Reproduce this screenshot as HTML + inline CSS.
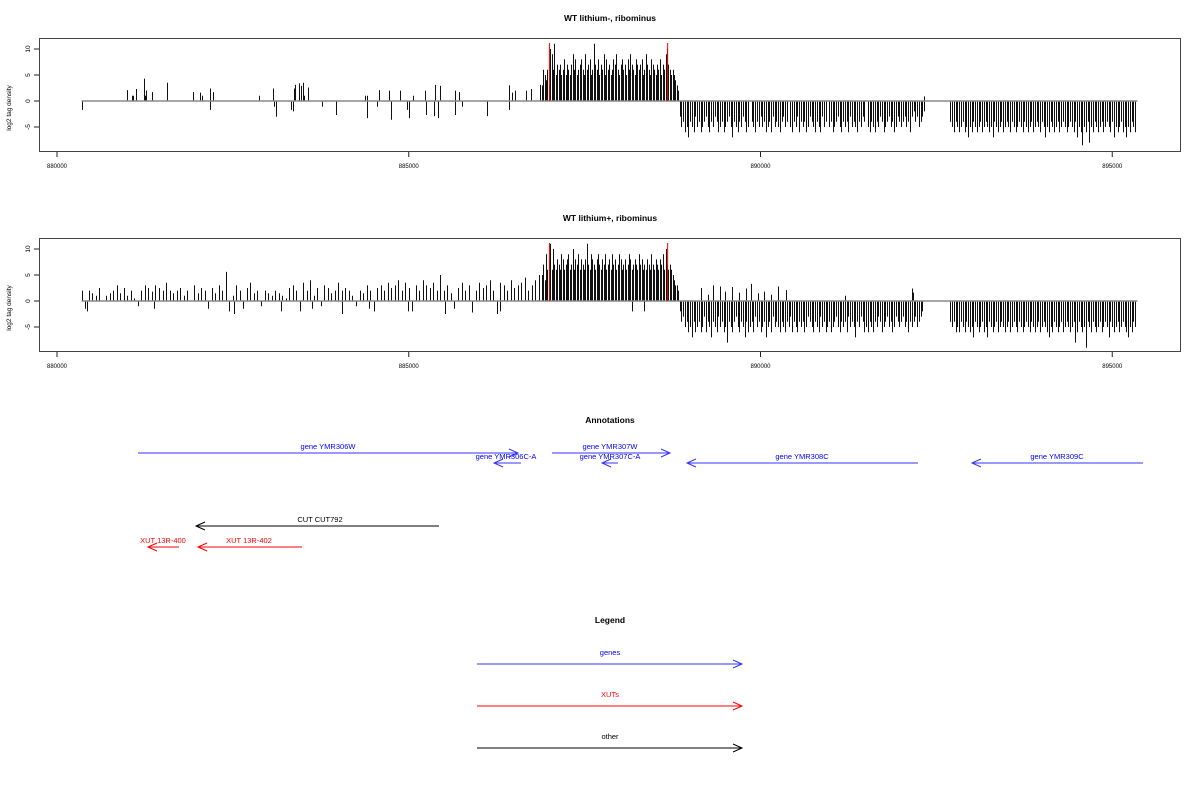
<!DOCTYPE html>
<html><head><meta charset="utf-8"><style>
body{margin:0;background:#fff}
svg{display:block;font-family:"Liberation Sans",sans-serif}
</style></head><body>
<svg id="chart" width="1200" height="800" viewBox="0 0 1200 800" xmlns="http://www.w3.org/2000/svg">
<rect width="1200" height="800" fill="#fff"/>
<g id="p1"></g>
<g id="p2"></g>
<g id="ann">
<text x="610" y="423" text-anchor="middle" font-size="8.5" font-weight="bold">Annotations</text>
</g>
<g id="leg">
<text x="610" y="623" text-anchor="middle" font-size="8.5" font-weight="bold">Legend</text>
</g>
</svg>
<script>
// ---- data ----
const tickValues = [880000, 885000, 890000, 895000];
const yTicks = [10, 5, 0, -5];
const redMarks = [887000, 888680];
const dataStart = 880350, dataEnd = 895360;

const p1SparsePos = [880359,881000,881065,881082,881120,881130,881234,881250,881266,881348,881565,881930,882038,882065,882168,882180,882212,882870,883070,883078,883108,883326,883348,883364,883386,883446,883468,883495,883510,883571,883766,883967,884375,884407,884413,884554,884581,884717,884744,884869,884978,885005,885054,885228,885244,885359,885380,885413,885445,885652,885657,885717,885761,886109,886424,886430,886472,886511,886668,886733,886860];
const p1SparseVal = [-1.7,2.1,1,1,2.3,1.6,4.3,1,2,1.7,3.5,1.7,1.6,1,2.4,-1.7,1.7,1,2.4,-1.1,-3,-1.7,-2,2.4,3.1,3.4,2.9,3.5,1,2.6,-1.1,-2.7,1,1,-3.3,-1.1,2.1,2,-3.6,2,-1.7,-3.3,1,2,-2.7,-2.9,3.1,-3.3,2.9,2,-2.7,1.7,-1.1,-2.9,3,-1.7,1.6,2,2,2.3,3.1];

const denseStart = 886890, denseStep = 20;
const p1Dense = [3,6,5,4,6,3,10,9,6,11,5,7,6,7,5,6,8,5,7,6,5,7,9,6,8,5,6,7,8,6,5,9,6,7,8,5,6,11,7,6,8,5,7,6,9,5,8,6,7,5,6,8,7,9,6,5,7,8,6,7,5,8,6,9,7,6,5,8,7,6,7,8,5,6,9,7,6,5,8,7,6,5,7,6,8,5,7,6,9,10,7,6,5,6,5,4,3,2];
const p2Dense = [5,7,4,9,6,8,11,6,10,7,6,8,7,6,9,8,6,7,8,9,6,7,10,6,8,7,9,6,8,7,6,8,11,7,6,9,8,7,6,8,9,7,6,8,7,9,6,7,8,6,9,7,8,6,7,9,8,6,7,8,6,7,9,8,6,7,8,7,6,9,7,8,6,7,6,8,7,6,9,7,6,8,7,6,8,7,9,6,10,7,6,7,6,5,4,3,3,2];

const negAStart = 888850, negStep = 25;
const p1NegA = [-3,-5,-4,-6,-5,-7,-4,-5,-6,-3,-5,-4,-6,-5,-4,-3,-5,-6,-4,-5,-3,-4,-6,-5,-4,-6,-5,-4,-3,-5,-7,-4,-5,-6,-4,-5,-3,-4,-6,-5,0,-4,-5,-6,-4,-5,-3,-5,-4,-6,-5,-4,-6,-3,-5,-4,-5,-6,-4,-3,-5,-4,0,-5,-6,-4,-5,-3,-6,-4,-5,-4,-6,-5,-3,-4,-5,-6,-4,-5,-6,-3,-5,-4,0,-5,-4,-6,-5,-4,-3,-5,-6,-4,-5,-4,-6,-3,-5,-4,-5,-6,-4,-5,-3,-4,0,-5,-6,-4,-5,-6,-4,-5,-3,-4,-6,-5,-4,-3,-5,-4,-6,-5,-3,-4,-5,-4,-3,-5,-4,-6,-3,-2,-4,-3,-5,-4,-3,-2];
const p2NegA = [-2,-4,-3,-5,-4,-6,-5,-7,-4,-6,-5,-4,-6,-5,-3,-6,-4,-5,-7,-4,-5,-6,-3,-5,-4,-6,-5,-8,-4,-5,-6,-4,-3,-5,-6,-4,-5,-7,-4,-6,-5,-4,-6,-3,-5,-4,-6,-5,-4,-7,-5,-4,-6,-3,-5,-4,-5,-6,-4,-5,-6,-4,-5,-3,-6,-4,-5,-6,-4,-5,-4,-6,-5,-3,-4,-5,-6,-4,-5,-6,-3,-5,-4,-6,-5,-4,-6,-5,-4,-3,-5,-6,-4,-5,-4,-6,-3,-5,-4,-5,-7,-4,-5,-3,-4,-6,-5,-6,-4,-5,-6,-4,-5,-3,-4,-6,-5,-4,-3,-5,-4,-6,-5,-3,-4,-5,-4,-3,-5,-4,-6,-4,-5,-4,-3,-5,-4,-3,-2];

const negBStart = 892700;
const p1NegB = [-4,-5,-6,-4,-5,-6,-5,-4,-6,-5,-7,-5,-6,-4,-5,-6,-5,-4,-6,-5,-4,-5,-6,-5,-7,-4,-5,-6,-5,-4,-6,-5,-4,-5,-6,-4,-5,-6,-5,-4,-5,-6,-4,-5,-6,-5,-4,-6,-5,-4,-5,-6,-4,-5,-7,-5,-6,-4,-5,-6,-5,-4,-6,-5,-4,-5,-6,-5,-4,-5,-6,-4,-7,-5,-6,-8.5,-5,-6,-4,-8,-5,-6,-4,-5,-6,-5,-4,-6,-5,-4,-5,-6,-4,-7,-5,-6,-5,-4,-6,-5,-7,-5,-6,-4,-5,-6];
const p2NegB = [-4,-5,-4,-6,-5,-6,-4,-5,-6,-4,-5,-6,-5,-7,-4,-5,-6,-5,-4,-6,-5,-7,-4,-5,-6,-5,-4,-6,-5,-4,-5,-6,-5,-4,-6,-5,-4,-5,-6,-4,-5,-6,-5,-4,-5,-6,-4,-5,-6,-5,-4,-6,-5,-4,-5,-6,-7,-5,-6,-4,-5,-6,-5,-4,-6,-5,-4,-5,-6,-5,-4,-8,-6,-4,-5,-6,-5,-9,-4,-5,-6,-4,-5,-6,-5,-4,-6,-5,-4,-5,-7,-4,-5,-6,-5,-4,-6,-5,-4,-5,-6,-7,-5,-6,-4,-5];

const p2AStart = 880350, p2AStep = 50;
const p2A = [2,-1.5,2,1.5,1,2.5,0,1,1.5,2,3,1.5,2.5,1,2,0.5,-1,2,3,2.5,1.8,3,2.5,2,3.5,2,1.5,2,2.5,1,2,0,3,1.5,2.5,2,-1.5,2.5,1.5,3,2,5.6,-2,1,3,2,-1.5,2.5,3.5,1.5,2,-1,2,1.5,1,2,1.5,1,0.5,2.5,3,2,-2,3.5,2,4,1,2.5,-1,3,2.5,1.5,2,3.5,2,2.5,2,1,-1,2,1.5,3,2,-2,2.5,3,2,3.5,2.5,3,4,2,3.5,2.5,-2,3,2,4,3,2.5,3.5,2,5,2,3,1.5,-1.5,2.5,3.5,2,3,-2,2,3.5,2.5,3,4,2,-2.5,3.5,3,2,4,2.5,3,3.5,4.5,2,3,4,5,4.5,6.5];
const p2ExtraPos = [880420,881380,882520,883180,883620,884050,884430,884990,885520,885900,886300,889160,889250,889330,889420,889500,889600,889700,889800,889870,889960,890050,890150,890250,890366,891204,892155,892170];
const p2ExtraVal = [-2,-1.5,-2.5,-2,-1.5,-2.5,-1.5,-2,-2.5,-2.2,-2,2.5,1.2,3,2.8,1.8,2.7,1.6,2.4,3.3,1.5,1.8,1.2,2.8,2.1,1,2.4,1.6];
const p2NegInPos = [888170,888350];
const p2NegInPosVal = [-2,-2];

// ---- axes ----
const xs = g => 57 + (g - 880000) * 0.07035;
const NS = 'http://www.w3.org/2000/svg';
function mk(parent, tag, attrs){const e=document.createElementNS(NS,tag);for(const k in attrs)e.setAttribute(k,attrs[k]);parent.appendChild(e);return e;}

function panel(gid, top, title, series){
  const G=document.getElementById(gid);
  const y0 = top + 62, ys = v => y0 - v*5.2;
  let t=mk(G,'text',{x:610,y:top-18,'text-anchor':'middle','font-size':'8.5','font-weight':'bold'});
  t.textContent=title;
  
  
  let fr=mk(G,'rect',{x:39.5,y:top-0.5,width:1141,height:113,fill:'none',stroke:'#444','stroke-width':1});
  
  
  const bars=mk(G,'g',{stroke:'#111','stroke-width':1});
  
  
  mk(G,'line',{x1:xs(dataStart),x2:xs(dataEnd),y1:y0,y2:y0,stroke:'#888','stroke-width':1.5});
  for(const [pos,vals] of series){
    for(let i=0;i<vals.length;i++){
      if(!vals[i]) continue;
      const x=Math.round(xs(pos[i]))+0.5;
      const b=mk(bars,'line',{x1:x,x2:x,y1:y0,y2:ys(vals[i])});
      
      
    }
  }
  for(const r of redMarks){
    const x=xs(r);
    const l=mk(G,'line',{x1:x,x2:x,y1:top+4,y2:y0,stroke:'#f00','stroke-width':1});
    
    
  }
  // x axis
  for(const tv of tickValues){
    const x=xs(tv);
    mk(G,'line',{x1:x,x2:x,y1:top+113,y2:top+118,stroke:'#222'});
    const tl=mk(G,'text',{x:x,y:top+129,'text-anchor':'middle','font-size':'6'});
    tl.textContent=tv;
    
    
  }
  for(const yv of yTicks){
    const y=ys(yv);
    mk(G,'line',{x1:34,x2:39,y1:y,y2:y,stroke:'#222'});
    const yl=mk(G,'text',{x:0,y:0,'text-anchor':'middle','font-size':'6.5',transform:`translate(30,${y}) rotate(-90)`});
    yl.textContent=yv;
    
    
  }
  const yt=mk(G,'text',{x:0,y:0,'text-anchor':'middle','font-size':'6.5',transform:`translate(11,${y0+7}) rotate(-90)`});
  yt.textContent='log2 tag density';
  
  
}
const seq=(s,st,n)=>Array.from({length:n},(_,i)=>s+i*st);
panel('p1',39,'WT lithium-, ribominus',[
  [p1SparsePos,p1SparseVal],
  [seq(denseStart,denseStep,p1Dense.length),p1Dense],
  [seq(negAStart,negStep,p1NegA.length),p1NegA],
  [seq(negBStart,negStep,p1NegB.length),p1NegB],
  [[892330],[0.9]]
]);
panel('p2',239,'WT lithium+, ribominus',[
  [seq(p2AStart,p2AStep,p2A.length),p2A],
  [p2ExtraPos,p2ExtraVal],
  [seq(denseStart,denseStep,p2Dense.length),p2Dense],
  [p2NegInPos,p2NegInPosVal],
  [seq(negAStart,negStep,p2NegA.length),p2NegA],
  [seq(negBStart,negStep,p2NegB.length),p2NegB]
]);

// ---- annotations ----
const annLabels=['gene YMR306W','gene YMR306C-A','gene YMR307W','gene YMR307C-A','gene YMR308C','gene YMR309C','CUT CUT792','XUT 13R-400','XUT 13R-402'];
const annFrom=[138,521,552,618,918,1143,439,179,302];
const annTo=[518,494,670,602,687,972,196,148,198];
const annY=[453,463,453,463,463,463,526,547,547];
const annLabelX=[328,506,610,610,802,1057,320,163,249];
const annColor=['#33f','#33f','#33f','#33f','#33f','#33f','#000','#f00','#f00'];
const annText=['#00f','#00f','#00f','#00f','#00f','#00f','#000','#f00','#f00'];
function arrow(G,x1,x2,y,c){
  mk(G,'line',{x1:x1,x2:x2,y1:y,y2:y,stroke:c,'stroke-width':1});
  const d=x2>x1?-1:1;
  mk(G,'path',{d:`M${x2+d*9},${y-4} L${x2},${y} L${x2+d*9},${y+4}`,fill:'none',stroke:c,'stroke-width':1});
}
const A=document.getElementById('ann');
for(let i=0;i<annLabels.length;i++){
  const g=mk(A,'g',{});
  
  
  arrow(g,annFrom[i],annTo[i],annY[i],annColor[i]);
  const t=mk(g,'text',{x:annLabelX[i],y:annY[i]-4,'text-anchor':'middle','font-size':'7.5',fill:annText[i]});
  t.textContent=annLabels[i];
}
// ---- legend ----
const legLabels=['genes','XUTs','other'];
const legColors=['#33f','#f00','#000'];
const legText=['#00f','#f00','#000'];
const legY=[664,706,748];
const L=document.getElementById('leg');
for(let i=0;i<legLabels.length;i++){
  const g=mk(L,'g',{});
  
  
  arrow(g,477,742,legY[i],legColors[i]);
  const t=mk(g,'text',{x:610,y:legY[i]-9,'text-anchor':'middle','font-size':'7.5',fill:legText[i]});
  t.textContent=legLabels[i];
}
</script>
</body></html>
